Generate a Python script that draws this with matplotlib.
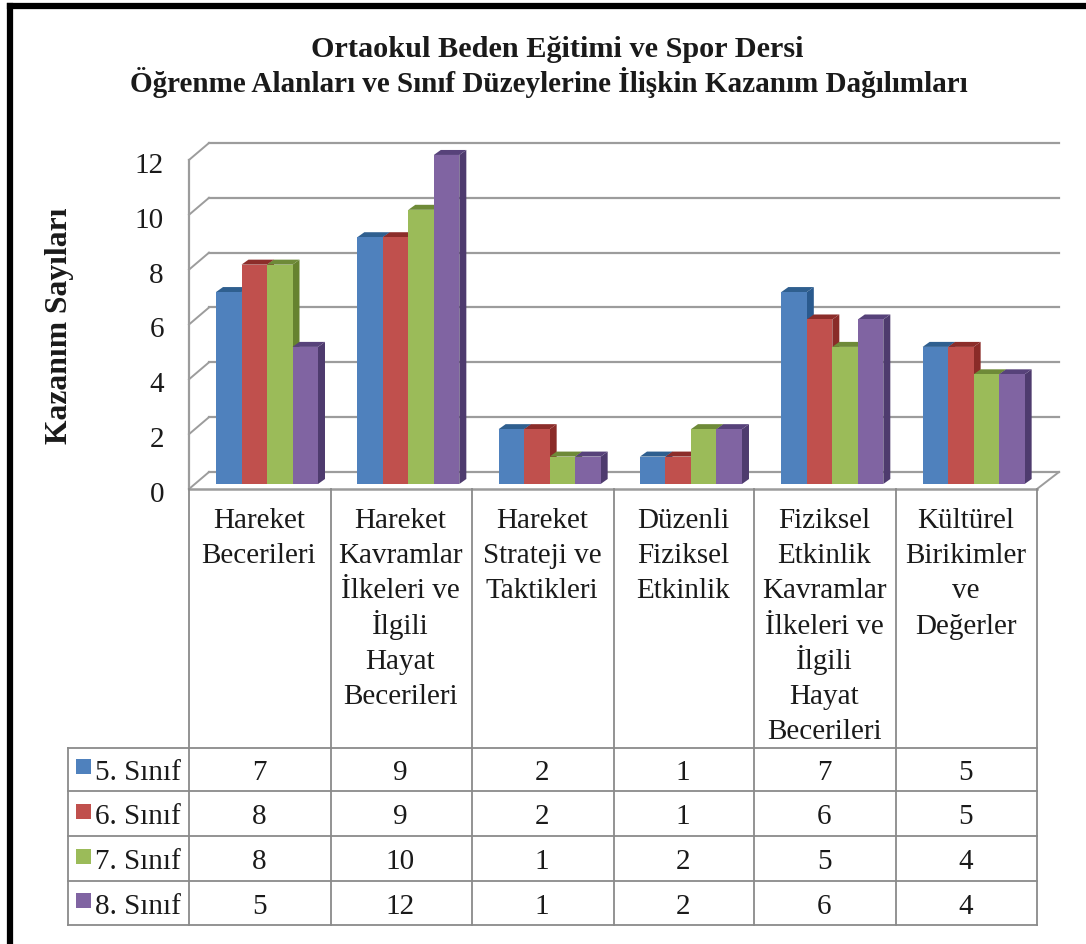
import matplotlib
matplotlib.use('Agg')
import matplotlib.pyplot as plt
from matplotlib.patches import Polygon

plt.rcParams['font.family'] = ['Liberation Serif', 'DejaVu Serif']

# data
categories = ['Hareket\nBecerileri',
              'Hareket\nKavramlar\nİlkeleri ve\nİlgili\nHayat\nBecerileri',
              'Hareket\nStrateji ve\nTaktikleri',
              'Düzenli\nFiziksel\nEtkinlik',
              'Fiziksel\nEtkinlik\nKavramlar\nİlkeleri ve\nİlgili\nHayat\nBecerileri',
              'Kültürel\nBirikimler\nve\nDeğerler']
series_names = ['5. Sınıf', '6. Sınıf', '7. Sınıf', '8. Sınıf']
sinif5 = [7, 9, 2, 1, 7, 5]
sinif6 = [8, 9, 2, 1, 6, 5]
sinif7 = [8, 10, 1, 2, 5, 4]
sinif8 = [5, 12, 1, 2, 6, 4]
yticks = [0, 2, 4, 6, 8, 10, 12]
title_lines = ['Ortaokul Beden Eğitimi ve Spor Dersi',
               'Öğrenme Alanları ve Sınıf Düzeylerine İlişkin Kazanım Dağılımları']
ylabel = 'Kazanım Sayıları'

series = [sinif5, sinif6, sinif7, sinif8]
front_colors = ['#4F81BD', '#C0504D', '#9BBB59', '#8064A2']
top_colors = ['#2F5F8F', '#8C2D2A', '#6E8A38', '#57427A']
side_colors = ['#2A5A8E', '#8A2B28', '#66822F', '#4E3B6E']
grid_color = '#9C9C9C'
table_color = '#8A8A8A'
text_color = '#1A1A1A'

W, H = 1086, 944
fig = plt.figure(figsize=(W / 100, H / 100), dpi=100, facecolor='white')
ax = fig.add_axes([0, 0, 1, 1])

# one category = 141.33 px, one count = 27.42 px, origin at first bar base
sx, sy = 141.33, 27.42
x0_px, y0_px = 189, 484
ax.set_xlim((0 - x0_px) / sx, (W - x0_px) / sx)
ax.set_ylim((y0_px - H) / sy, y0_px / sy)
ax.axis('off')


def cx(px):
    return (px - x0_px) / sx


def cy(py):
    return (y0_px - py) / sy


# walls and floor
wall_dx = 20 / sx
right_dx = 22 / sx
back_dy = 12 / sy
front_dy = -5 / sy
tick_drop = 13 / sy
for t in yticks:
    ax.plot([0, wall_dx], [t + front_dy, t + back_dy], color=grid_color, lw=1.4, zorder=1)
    ax.plot([wall_dx, 6 + right_dx], [t + back_dy, t + back_dy], color=grid_color, lw=1.6, zorder=1)
    ax.text(cx(164), t + front_dy - tick_drop, str(t), ha='right', va='baseline', fontsize=21, color=text_color)
ax.plot([0, 0], [front_dy, 12 + front_dy], color=grid_color, lw=1.6, zorder=1)
ax.plot([0, 6], [front_dy, front_dy], color=grid_color, lw=1.8, zorder=1)
ax.plot([6, 6 + right_dx], [front_dy, back_dy], color=grid_color, lw=1.4, zorder=1)

# bars, front face plus fake 3d top and side
bar_w = 25.5 / sx
offset = 27 / sx
dx = 7 / sx
dy = 5 / sy
z = 3
for c in range(len(categories)):
    for s, vals in enumerate(series):
        left = c + offset + s * bar_w
        v = vals[c]
        right = left + bar_w
        ax.add_patch(Polygon([(right, 0), (right + dx, dy), (right + dx, v + dy), (right, v)],
                             facecolor=side_colors[s], edgecolor='none', zorder=z))
        ax.add_patch(Polygon([(left, v), (left + dx, v + dy), (right + dx, v + dy), (right, v)],
                             facecolor=top_colors[s], edgecolor='none', zorder=z))
        ax.bar(left, v, width=bar_w, align='edge', color=front_colors[s], zorder=z + 0.5)
        z += 1

# data table
row_lines = [747.5, 791, 836, 881, 925]
col_lines = [189, 331, 472, 614, 754, 896, 1037]
table_left = 68
tk = dict(color=table_color, lw=1.3, zorder=2)
for py in row_lines:
    ax.plot([cx(table_left), cx(col_lines[-1])], [cy(py), cy(py)], **tk)
for px in col_lines:
    ax.plot([cx(px), cx(px)], [cy(489), cy(925)], **tk)
ax.plot([cx(table_left), cx(table_left)], [cy(747.5), cy(925)], **tk)

# category labels, line by line so spacing matches
for c, label in enumerate(categories):
    mid = cx((col_lines[c] + col_lines[c + 1]) / 2 - 1)
    for i, line in enumerate(label.split('\n')):
        ax.text(mid, cy(528 + i * 35.2), line, ha='center', va='baseline', fontsize=21, color=text_color)

for r, name in enumerate(series_names):
    ymid = (row_lines[r] + row_lines[r + 1]) / 2
    ax.add_patch(Polygon([(cx(76), cy(ymid - 10)), (cx(91), cy(ymid - 10)), (cx(91), cy(ymid + 5)), (cx(76), cy(ymid + 5))],
                         facecolor=front_colors[r], edgecolor='none', zorder=3))
    ax.text(cx(95), cy(ymid + 10.5), name, ha='left', va='baseline', fontsize=21, color=text_color)
    for c, v in enumerate(series[r]):
        mid = cx((col_lines[c] + col_lines[c + 1]) / 2 - 1)
        ax.text(mid, cy(ymid + 10.5), str(v), ha='center', va='baseline', fontsize=21, color=text_color)

# titles
ax.text(cx(557), cy(57), title_lines[0], ha='center', va='baseline', fontsize=21.8, fontweight='bold', color=text_color)
ax.text(cx(549), cy(92), title_lines[1], ha='center', va='baseline', fontsize=21, fontweight='bold', color=text_color)
ax.text(cx(59), cy(326), ylabel, rotation=90, ha='center', va='center', fontsize=22.8, fontweight='bold', color=text_color)

# thick black frame of the picture, only top and left reach inside the crop
ax.plot([cx(10), cx(W)], [cy(6), cy(6)], color='black', lw=4.5, solid_capstyle='projecting', zorder=10)
ax.plot([cx(10), cx(10)], [cy(6), cy(H)], color='black', lw=4.5, solid_capstyle='projecting', zorder=10)

fig.savefig('out.png', dpi=100)
